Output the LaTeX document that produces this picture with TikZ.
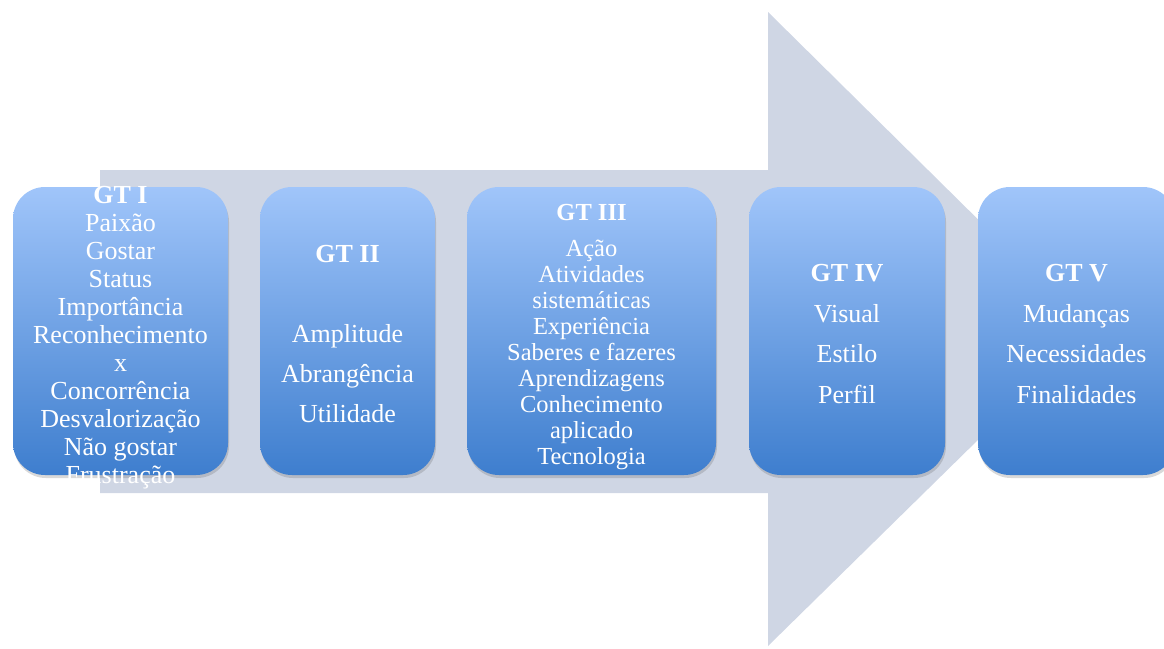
\documentclass[tikz,border=0pt]{standalone}
\usepackage{fontspec}
\setmainfont{Liberation Serif}
\usetikzlibrary{shadows}
\definecolor{arrowgray}{RGB}{207,214,228}
\definecolor{boxtop}{RGB}{160,197,250}
\definecolor{boxbottom}{RGB}{62,126,206}

\begin{document}
\begin{tikzpicture}[x=1pt, y=-1pt,
                    gtbox/.style={rounded corners=32pt, top color=boxtop, bottom color=boxbottom,
                        minimum height=288pt, inner sep=0pt,
                        drop shadow={shadow xshift=1pt, shadow yshift=-3pt, opacity=.25, fill=black!60}},
                    gttext/.style={text=white, align=center, font=\fontsize{26}{28}\selectfont}]
                    \useasboundingbox (0,0) rectangle (1164,648);
                    % big arrow behind the boxes
                    \fill[arrowgray] (100,170) -- (768,170) -- (768,12) -- (1090,330) -- (768,646) -- (768,493) -- (100,493) -- cycle;
                    \node[gtbox, minimum width=215pt] (box1) at (120.5,331) {};
                    \node[gtbox, minimum width=175pt] (box2) at (347.5,331) {};
                    \node[gtbox, minimum width=249pt] (box3) at (591.5,331) {};
                    \node[gtbox, minimum width=196pt] (box4) at (847,331) {};
                    \node[gtbox, minimum width=197pt] (box5) at (1076.5,331) {};
                    \node[gttext, yshift=-7pt] (gt1) at (box1.center) {\textbf{GT I}\\Paixão\\Gostar\\Status\\Importância\\Reconhecimento\\x\\Concorrência\\Desvalorização\\Não gostar\\Frustração};
                    \node[gttext, yshift=-3pt, font=\fontsize{26}{40}\selectfont] (gt2) at (box2.center) {\textbf{GT II}\\[40pt]Amplitude\\Abrangência\\Utilidade};
                    \node[gttext, yshift=-6pt, font=\fontsize{24.5}{26}\selectfont] (gt3) at (box3.center) {\textbf{GT III}\\[10pt]Ação\\Atividades\\sistemáticas\\Experiência\\Saberes e fazeres\\Aprendizagens\\Conhecimento\\aplicado\\Tecnologia};
                    \node[gttext, yshift=-3pt, font=\fontsize{26}{40.5}\selectfont] (gt4) at (box4.center) {\textbf{GT IV}\\Visual\\Estilo\\Perfil};
                    \node[gttext, yshift=-3pt, font=\fontsize{26}{40.5}\selectfont] (gt5) at (box5.center) {\textbf{GT V}\\Mudanças\\Necessidades\\Finalidades};
                \end{tikzpicture}
\end{document}
